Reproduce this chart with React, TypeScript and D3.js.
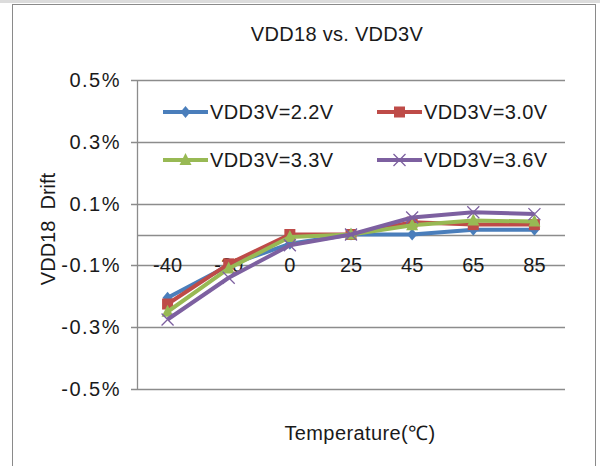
import React, { useEffect, useRef } from "react";
import * as d3 from "d3";

const categories = ["-40", "-20", "0", "25", "45", "65", "85"];
const vdd22 = [-0.205, -0.1, -0.03, 0.0, 0.0, 0.015, 0.015];
const vdd30 = [-0.225, -0.095, 0.0, 0.0, 0.04, 0.032, 0.032];
const vdd33 = [-0.25, -0.11, -0.008, 0.0, 0.03, 0.045, 0.042];
const vdd36 = [-0.275, -0.14, -0.035, 0.0, 0.055, 0.072, 0.066];
const seriesNames = ["VDD3V=2.2V", "VDD3V=3.0V", "VDD3V=3.3V", "VDD3V=3.6V"];
const yTicks = [-0.5, -0.3, -0.1, 0.1, 0.3, 0.5];

const W = 600;
const H = 466;
const FONT = "'Liberation Sans', Arial, sans-serif";

const ChartComponent = () => {
    const ref = useRef<SVGSVGElement>(null);

    useEffect(() => {
        if (!ref.current) return;
        d3.select(ref.current).selectAll("*").remove();
        const svg = d3.select(ref.current).attr("width", W).attr("height", H);

        const series = [
            { name: seriesNames[0], values: vdd22, color: "#4a7ebb", marker: "diamond" },
            { name: seriesNames[1], values: vdd30, color: "#be4b48", marker: "square" },
            { name: seriesNames[2], values: vdd33, color: "#98b954", marker: "triangle" },
            { name: seriesNames[3], values: vdd36, color: "#7d60a0", marker: "x" },
        ];

        // page strip above the frame + chart frame
        svg.append("rect").attr("x", 0).attr("y", 0).attr("width", W).attr("height", 3).attr("fill", "#dcdcdc");
        svg.append("rect")
            .attr("x", 12.5)
            .attr("y", 4.5)
            .attr("width", 583)
            .attr("height", 480)
            .attr("fill", "#fff")
            .attr("stroke", "#8a8a8a")
            .attr("stroke-width", 1);

        const x = d3.scaleBand().domain(categories).range([137, 565]);
        const y = d3.scaleLinear().domain([-0.5, 0.5]).range([389, 80]);

        // gridlines
        svg.append("g")
            .selectAll("line")
            .data(yTicks)
            .enter()
            .append("line")
            .attr("x1", 131)
            .attr("x2", 565)
            .attr("y1", (d) => Math.round(y(d)) + 0.5)
            .attr("y2", (d) => Math.round(y(d)) + 0.5)
            .attr("stroke", "#8c8c8c")
            .attr("stroke-width", 1.3);

        // y axis line
        svg.append("line")
            .attr("x1", 137.5)
            .attr("x2", 137.5)
            .attr("y1", y(0.5))
            .attr("y2", y(-0.5))
            .attr("stroke", "#8c8c8c")
            .attr("stroke-width", 1.3);

        // x axis (crossing at 0)
        svg.append("line")
            .attr("x1", 137)
            .attr("x2", 565)
            .attr("y1", Math.round(y(0)) + 0.5)
            .attr("y2", Math.round(y(0)) + 0.5)
            .attr("stroke", "#8c8c8c")
            .attr("stroke-width", 1.3);

        // y tick labels
        svg.append("g")
            .selectAll("text")
            .data(yTicks)
            .enter()
            .append("text")
            .attr("x", 121)
            .attr("y", (d) => y(d) + 7)
            .attr("text-anchor", "end")
            .attr("font-family", FONT)
            .attr("font-size", 20)
            .attr("letter-spacing", 1.5)
            .attr("fill", "#1a1a1a")
            .text((d) => `${d.toFixed(1)}%`);

        // category labels
        svg.append("g")
            .selectAll("text")
            .data(categories)
            .enter()
            .append("text")
            .attr("x", (d) => x(d)! + x.bandwidth() / 2)
            .attr("y", y(0) + 37)
            .attr("text-anchor", "middle")
            .attr("font-family", FONT)
            .attr("font-size", 20)
            .attr("fill", "#1a1a1a")
            .text((d) => d);

        const cx = (i: number) => x(categories[i])! + x.bandwidth() / 2;

        const drawMarker = (g: any, kind: string, px: number, py: number, color: string) => {
            if (kind === "diamond") {
                g.append("path")
                    .attr("d", `M${px},${py - 6}L${px + 5},${py}L${px},${py + 6}L${px - 5},${py}Z`)
                    .attr("fill", color);
            } else if (kind === "square") {
                g.append("rect")
                    .attr("x", px - 5.5)
                    .attr("y", py - 5.5)
                    .attr("width", 11)
                    .attr("height", 11)
                    .attr("fill", color);
            } else if (kind === "triangle") {
                g.append("path")
                    .attr("d", `M${px},${py - 7}L${px + 6},${py + 5}L${px - 6},${py + 5}Z`)
                    .attr("fill", color);
            } else {
                g.append("path")
                    .attr("d", `M${px - 6},${py - 6}L${px + 6},${py + 6}M${px - 6},${py + 6}L${px + 6},${py - 6}`)
                    .attr("stroke", color)
                    .attr("stroke-width", 1.3)
                    .attr("fill", "none");
            }
        };

        const line = d3
            .line<number>()
            .x((_, i) => cx(i))
            .y((d) => y(d));

        series.forEach((s) => {
            const g = svg.append("g");
            g.append("path")
                .datum(s.values)
                .attr("d", line)
                .attr("fill", "none")
                .attr("stroke", s.color)
                .attr("stroke-width", 4)
                .attr("stroke-linejoin", "round");
            s.values.forEach((v, i) => drawMarker(g, s.marker, cx(i), y(v), s.color));
        });

        // legend
        const legendPos = [
            [163, 112],
            [377, 112],
            [163, 160],
            [377, 160],
        ];
        series.forEach((s, i) => {
            const [lx, ly] = legendPos[i];
            const g = svg.append("g");
            g.append("line")
                .attr("x1", lx)
                .attr("x2", lx + 45)
                .attr("y1", ly)
                .attr("y2", ly)
                .attr("stroke", s.color)
                .attr("stroke-width", 4);
            drawMarker(g, s.marker, lx + 22.5, ly, s.color);
            g.append("text")
                .attr("x", lx + 47)
                .attr("y", ly + 7)
                .attr("font-family", FONT)
                .attr("font-size", 20)
                .attr("letter-spacing", 0.4)
                .attr("fill", "#1a1a1a")
                .text(s.name);
        });

        // title
        svg.append("text")
            .attr("x", 337)
            .attr("y", 41)
            .attr("text-anchor", "middle")
            .attr("font-family", FONT)
            .attr("font-size", 20)
            .attr("letter-spacing", 0.3)
            .attr("fill", "#1a1a1a")
            .text("VDD18 vs. VDD3V");

        // axis titles
        svg.append("text")
            .attr("transform", "translate(55,229) rotate(-90)")
            .attr("text-anchor", "middle")
            .attr("font-family", FONT)
            .attr("font-size", 20)
            .attr("fill", "#1a1a1a")
            .attr("xml:space", "preserve")
            .style("white-space", "pre")
            .text("VDD18  Drift");

        svg.append("text")
            .attr("x", 360)
            .attr("y", 440)
            .attr("text-anchor", "middle")
            .attr("font-family", FONT)
            .attr("font-size", 20)
            .attr("letter-spacing", 0.4)
            .attr("fill", "#1a1a1a")
            .text("Temperature(℃)");
    }, []);

    return <svg ref={ref} style={{ position: "absolute", left: 0, top: 0 }} />;
};

export default function App() {
    return <ChartComponent />;
}
